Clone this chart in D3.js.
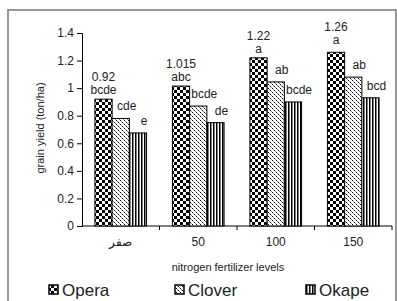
<!DOCTYPE html>
<html>
<head>
<meta charset="utf-8">
<script src="https://cdn.jsdelivr.net/npm/d3@7"></script>
<style>
  body { margin: 0; background: #fff; }
  text { font-family: "Liberation Sans", Arial, sans-serif; }
</style>
</head>
<body>
<script>
// Données
const levels = ['صفر', '50', '100', '150']
const series = ['Opera', 'Clover', 'Okape']
const opera = [0.92, 1.015, 1.22, 1.26]
const clover = [0.78, 0.87, 1.045, 1.08]
const okape = [0.675, 0.75, 0.9, 0.93]
const operaLetters = ['bcde', 'abc', 'a', 'a']
const cloverLetters = ['cde', 'bcde', 'ab', 'ab']
const okapeLetters = ['e', 'de', 'bcde', 'bcd']
const operaValueLabels = ['0.92', '1.015', '1.22', '1.26']
const yTicks = [0, 0.2, 0.4, 0.6, 0.8, 1, 1.2, 1.4]

const width = 397, height = 301
const margin = { top: 33, left: 82, right: 5, bottom: 75 }
const plotRight = 392, plotBottom = 226

const svg = d3.select('body').append('svg')
    .attr('width', width)
    .attr('height', height)

// Motifs des barres
const defs = svg.append('defs')

const checker = defs.append('pattern')
    .attr('id', 'checker')
    .attr('patternUnits', 'userSpaceOnUse')
    .attr('width', 6).attr('height', 6)
checker.append('rect').attr('width', 6).attr('height', 6).attr('fill', '#fff')
checker.append('rect').attr('width', 3).attr('height', 3).attr('fill', '#000')
checker.append('rect').attr('x', 3).attr('y', 3).attr('width', 3).attr('height', 3).attr('fill', '#000')

const dots = defs.append('pattern')
    .attr('id', 'dots')
    .attr('patternUnits', 'userSpaceOnUse')
    .attr('width', 4).attr('height', 4)
dots.append('rect').attr('width', 4).attr('height', 4).attr('fill', '#fff')
dots.append('rect').attr('x', 0).attr('y', 0).attr('width', 1).attr('height', 1).attr('fill', '#000')
dots.append('rect').attr('x', 2).attr('y', 2).attr('width', 1).attr('height', 1).attr('fill', '#000')
dots.append('rect').attr('x', 1).attr('y', 1).attr('width', 1).attr('height', 1).attr('fill', '#888')
dots.append('rect').attr('x', 3).attr('y', 3).attr('width', 1).attr('height', 1).attr('fill', '#888')

const stripes = defs.append('pattern')
    .attr('id', 'stripes')
    .attr('patternUnits', 'userSpaceOnUse')
    .attr('width', 3).attr('height', 3)
stripes.append('rect').attr('width', 3).attr('height', 3).attr('fill', '#fff')
stripes.append('rect').attr('width', 1.5).attr('height', 3).attr('fill', '#000')

const fills = ['url(#checker)', 'url(#dots)', 'url(#stripes)']

// Cadre extérieur
svg.append('rect')
    .attr('x', 8).attr('y', 10)
    .attr('width', 388).attr('height', 300)
    .attr('fill', 'none')
    .attr('stroke', '#777')
    .attr('stroke-width', 1.5)

// Échelles
const y = d3.scaleLinear().domain([0, 1.4]).range([plotBottom, margin.top])
const x0 = d3.scaleBand().domain(levels).range([margin.left, plotRight])
const barW = x0.bandwidth() / 4.5
const x1 = d3.scaleBand().domain(series)
    .range([x0.bandwidth() * 0.75 / 4.5, x0.bandwidth() * 0.75 / 4.5 + barW * 3])

// Axe Y
const yAxis = svg.append('g')
    .attr('transform', `translate(${margin.left},0)`)
    .call(d3.axisLeft(y).tickValues(yTicks).tickSize(5).tickFormat(d => d))
yAxis.select('.domain').attr('stroke', '#000')
yAxis.selectAll('text').attr('font-size', 12).attr('fill', '#222')
    .attr('font-family', 'Liberation Sans, Arial, sans-serif')

// Axe X (graduations entre catégories)
svg.append('line')
    .attr('x1', margin.left).attr('x2', plotRight)
    .attr('y1', plotBottom).attr('y2', plotBottom)
    .attr('stroke', '#000')
svg.selectAll('.xtick')
    .data(levels.slice(1).concat(['end']))
    .join('line')
    .attr('x1', (d, i) => x0(levels[0]) + x0.step() * (i + 1))
    .attr('x2', (d, i) => x0(levels[0]) + x0.step() * (i + 1))
    .attr('y1', plotBottom).attr('y2', plotBottom + 4)
    .attr('stroke', '#000')

svg.selectAll('.xlabel')
    .data(levels)
    .join('text')
    .attr('x', d => x0(d) + x0.bandwidth() / 2)
    .attr('y', 246)
    .attr('text-anchor', 'middle')
    .attr('font-size', 12)
    .attr('fill', '#222')
    .text(d => d)

// Barres
const seriesData = [opera, clover, okape]
const letters = [operaLetters, cloverLetters, okapeLetters]
series.forEach((s, si) => {
    svg.selectAll('.bar-' + s)
        .data(seriesData[si])
        .join('rect')
        .attr('x', (d, i) => x0(levels[i]) + x1(s))
        .attr('y', d => y(d))
        .attr('width', barW)
        .attr('height', d => plotBottom - y(d))
        .attr('fill', fills[si])
        .attr('stroke', '#000')
        .attr('stroke-width', 1)
})

// Lettres de significativité
series.forEach((s, si) => {
    svg.selectAll('.lab-' + s)
        .data(seriesData[si])
        .join('text')
        .attr('x', (d, i) => x0(levels[i]) + x1(s) + barW / 2 + (si === 0 ? 0 : 6))
        .attr('y', (d, i) => y(d) - (si === 0 ? (i === 3 ? 8 : 5) : 8))
        .attr('text-anchor', 'middle')
        .attr('font-size', 12)
        .attr('fill', '#222')
        .text((d, i) => letters[si][i])
})

// Valeurs moyennes d'Opera
svg.selectAll('.val')
    .data(opera)
    .join('text')
    .attr('x', (d, i) => x0(levels[i]) + x1('Opera') + barW / 2)
    .attr('y', (d, i) => y(d) - (i === 3 ? 21 : 18))
    .attr('text-anchor', 'middle')
    .attr('font-size', 12)
    .attr('fill', '#222')
    .text((d, i) => operaValueLabels[i])

// Titres des axes
svg.append('text')
    .attr('transform', `translate(44, 128) rotate(-90)`)
    .attr('text-anchor', 'middle')
    .attr('font-size', 11)
    .attr('fill', '#222')
    .text('grain yield (ton/ha)')

svg.append('text')
    .attr('x', 228).attr('y', 271)
    .attr('text-anchor', 'middle')
    .attr('font-size', 11)
    .attr('fill', '#222')
    .text('nitrogen fertilizer levels')

// Légende
const legendX = [49, 175, 306]
series.forEach((s, si) => {
    svg.append('rect')
        .attr('x', legendX[si]).attr('y', 285)
        .attr('width', 9).attr('height', 9)
        .attr('fill', fills[si])
        .attr('stroke', '#000')
        .attr('stroke-width', 1.5)
    svg.append('text')
        .attr('x', legendX[si] + 13).attr('y', 295.5)
        .attr('font-size', 17)
        .attr('fill', '#222')
        .text(s)
})
</script>
</body>
</html>
